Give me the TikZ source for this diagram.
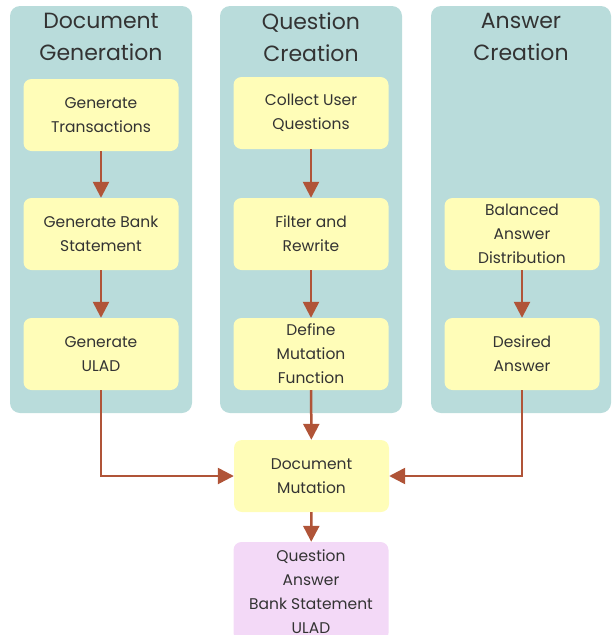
\documentclass[tikz,border=0pt]{standalone}
\usepackage{fontspec}
\setmainfont{Poppins}
\usetikzlibrary{arrows.meta}

\definecolor{lanebg}{HTML}{B9DCDB}
\definecolor{stepbg}{HTML}{FFFDB8}
\definecolor{outbg}{HTML}{F3D9F7}
\definecolor{flowred}{HTML}{B05438}
\definecolor{inkgray}{HTML}{333333}

\tikzset{
  lane/.style={fill=lanebg, draw=none, rounded corners=10pt},
  lanetitle/.style={align=center, text=inkgray, font=\fontsize{22}{32}\selectfont},
  stepbox/.style={fill=stepbg, draw=none, rounded corners=8pt, align=center,
    text=inkgray, minimum width=155pt, minimum height=72pt, inner sep=0pt,
    font=\fontsize{15.5}{24}\selectfont},
  outbox/.style={stepbox, fill=outbg, minimum height=99pt},
  flow/.style={draw=flowred, line width=2.5pt, -{Triangle[width=16pt,length=16pt]}},
}

\begin{document}
\begin{tikzpicture}[x=1pt, y=-1pt]
			%%%%% START %%%%%
			
			\clip (0, 0) rectangle (612, 635);
			
			% lanes
			\draw[lane] (10, 6) rectangle (192, 413);
			\draw[lane] (220, 6) rectangle (402, 413);
			\draw[lane] (431, 6) rectangle (611, 413);
			
			\node[lanetitle] (titledoc) at (101, 37) {Document\\Generation};
			\node[lanetitle] (titleques) at (311, 37) {Question\\Creation};
			\node[lanetitle] (titleans) at (521, 37) {Answer\\Creation};
			
			% document generation
			\node[stepbox] (gentrans) at (101, 115) {Generate\\Transactions};
			\node[stepbox] (genbank) at (101, 234) {Generate Bank\\Statement};
			\node[stepbox] (genulad) at (101, 354) {Generate\\ULAD};
			
			% question creation
			\node[stepbox] (collect) at (311, 113) {Collect User\\Questions};
			\node[stepbox] (filter) at (311, 234) {Filter and\\Rewrite};
			\node[stepbox] (define) at (311, 354) {Define\\Mutation\\Function};
			
			% answer creation
			\node[stepbox] (balanced) at (522, 234) {Balanced\\Answer\\Distribution};
			\node[stepbox] (desired) at (522, 354) {Desired\\Answer};
			
			% mutation and output
			\node[stepbox] (mutation) at (311.5, 476) {Document\\Mutation};
			\node[outbox] (output) at (311, 591.5) {Question\\Answer\\Bank Statement\\ULAD};
			
			\draw[flow] (gentrans) -- (genbank);
			\draw[flow] (genbank) -- (genulad);
			\draw[flow] (collect) -- (filter);
			\draw[flow] (filter) -- (define);
			\draw[flow] (balanced) -- (desired);
			
			\draw[flow] (define) -- (mutation);
			\draw[flow] (genulad.south) |- (mutation.west);
			\draw[flow] (desired.south) |- (mutation.east);
			\draw[flow] (mutation) -- (output);
			
			%%%%% END %%%%%
\end{tikzpicture}
\end{document}
